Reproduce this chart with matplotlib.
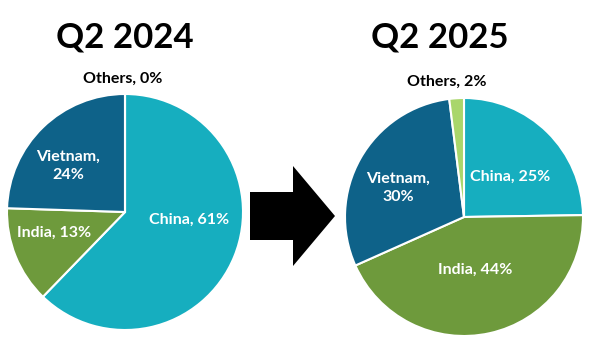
import matplotlib.pyplot as plt
from matplotlib.patches import FancyArrow

# Shares by country (clockwise from 12 o'clock)
countries = ["China", "India", "Vietnam", "Others"]
share_2024 = [61, 13, 24, 0]
share_2025 = [25, 44, 30, 2]
labels_2024 = ["China, 61%", "India, 13%", "Vietnam,\n24%", "Others, 0%"]
labels_2025 = ["China, 25%", "India, 44%", "Vietnam,\n30%", "Others, 2%"]
colors = ["#16aebf", "#6e9a3c", "#0e6289", "#a9d66b"]

W, H = 589, 346
fig = plt.figure(figsize=(W / 100, H / 100), dpi=100)
ax = fig.add_axes([0, 0, 1, 1])

font = "Lato"
wedge_props = dict(edgecolor="white", linewidth=1.5)

ax.pie(share_2024, colors=colors, startangle=90, counterclock=False,
       center=(125, H - 212), radius=118, wedgeprops=wedge_props)
ax.pie(share_2025, colors=colors, startangle=90, counterclock=False,
       center=(464, H - 217), radius=119, wedgeprops=wedge_props)

ax.set_xlim(0, W)
ax.set_ylim(0, H)
ax.set_aspect("equal")
ax.axis("off")

# titles
ax.text(125, H - 38, "Q2 2024", ha="center", va="center", fontsize=25,
        fontweight="bold", family=font, color="black")
ax.text(440, H - 38, "Q2 2025", ha="center", va="center", fontsize=25,
        fontweight="bold", family=font, color="black")

# slice labels
lab = dict(ha="center", va="center", fontsize=11.5, fontweight="bold", family=font)
pos_2024 = [(189, 220), (54, 233), (68, 166), (123, 79)]
pos_2025 = [(510, 177), (475, 270), (398, 188), (447, 82)]
for (x, y), t, c in zip(pos_2024, labels_2024, ["white", "white", "white", "black"]):
    ax.text(x, H - y, t, color=c, linespacing=1.4, **lab)
for (x, y), t, c in zip(pos_2025, labels_2025, ["white", "white", "white", "black"]):
    ax.text(x, H - y, t, color=c, linespacing=1.4, **lab)

# block arrow between the pies
ax.add_patch(FancyArrow(250, H - 216, 85, 0, width=48, head_width=100,
                        head_length=42, length_includes_head=True,
                        color="black", linewidth=0))

fig.savefig("out.png", dpi=100, facecolor="white")
